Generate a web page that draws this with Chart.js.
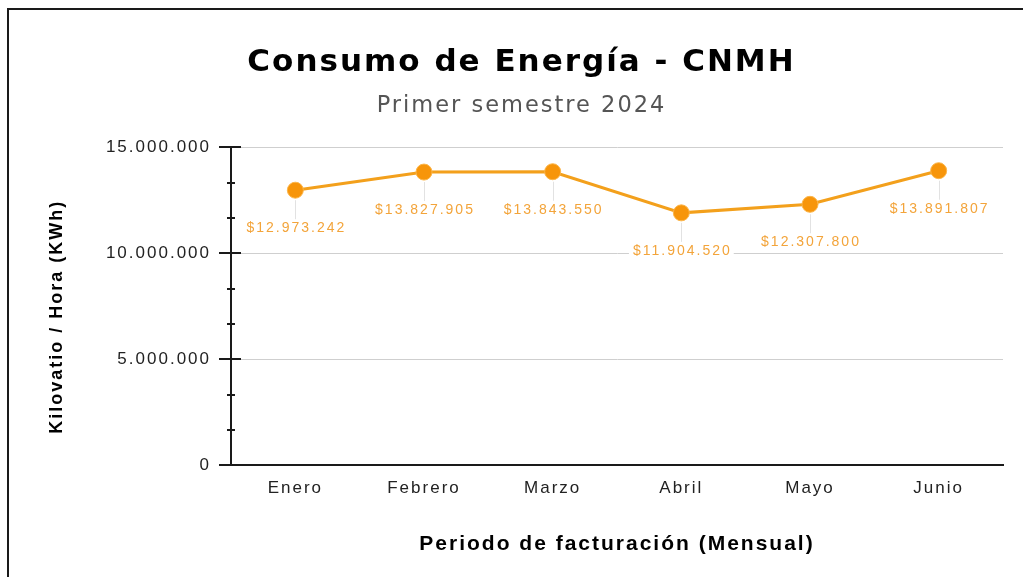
<!DOCTYPE html>
<html>
<head>
<meta charset="utf-8">
<script src="https://cdn.jsdelivr.net/npm/chart.js@4.4.1/dist/chart.umd.min.js"></script>
<style>
	html, body { margin: 0; padding: 0; background: #fff; }
	#wrap { position: relative; width: 1023px; height: 577px; overflow: hidden; }
	#frame { position: absolute; left: 7px; top: 8px; right: -10px; bottom: -10px; border-top: 2px solid #1a1a1a; border-left: 2px solid #1a1a1a; pointer-events: none; }
</style>
</head>
<body>
<div id="wrap">
	<canvas id="energyChart" width="1023" height="577"></canvas>
	<div id="frame"></div>
</div>
<script>
const meses = ['Enero', 'Febrero', 'Marzo', 'Abril', 'Mayo', 'Junio'];
const consumo = [12973242, 13827905, 13843550, 11904520, 12307800, 13891807];
const yMajor = [0, 5000000, 10000000, 15000000];
const yMinorPerMajor = 3;

// minor ticks between the labelled ones
const yAll = [];
for (let i = 0; i < yMajor.length; i++) {
	yAll.push(yMajor[i]);
	if (i < yMajor.length - 1) {
		const step = (yMajor[i + 1] - yMajor[i]) / yMinorPerMajor;
		for (let k = 1; k < yMinorPerMajor; k++) yAll.push(Math.round(yMajor[i] + step * k));
	}
}

function fmt(v) {
	return String(Math.round(v)).replace(/\B(?=(\d{3})+(?!\d))/g, '.');
}

const spacing = {
	id: 'spacing',
	beforeLayout(chart) { chart.ctx.letterSpacing = '2px'; },
	beforeDraw(chart) { chart.ctx.letterSpacing = '2px'; }
};

const axisTicks = {
	id: 'axisTicks',
	afterDraw(chart) {
		const ctx = chart.ctx;
		const y = chart.scales.y;
		const x0 = chart.chartArea.left;
		ctx.save();
		ctx.strokeStyle = '#1a1a1a';
		ctx.lineWidth = 2;
		y.ticks.forEach(t => {
			const py = Math.round(y.getPixelForValue(t.value));
			const major = yMajor.includes(t.value);
			ctx.beginPath();
			ctx.moveTo(x0 - (major ? 12 : 4), py);
			ctx.lineTo(x0 + (major ? (t.value === 0 ? 0 : 10) : 4), py);
			ctx.stroke();
		});
		ctx.restore();
	}
};

const valueLabels = {
	id: 'valueLabels',
	afterDatasetsDraw(chart) {
		const ctx = chart.ctx;
		const meta = chart.getDatasetMeta(0);
		ctx.save();
		ctx.letterSpacing = '2px';
		ctx.font = '14px "Liberation Sans", Arial, sans-serif';
		ctx.textAlign = 'center';
		ctx.textBaseline = 'middle';
		meta.data.forEach((pt, i) => {
			const txt = '$' + fmt(consumo[i]);
			const ty = pt.y + 38;
			ctx.strokeStyle = '#e2e2e2';
			ctx.lineWidth = 1;
			ctx.beginPath();
			ctx.moveTo(Math.round(pt.x) + 0.5, pt.y + 10);
			ctx.lineTo(Math.round(pt.x) + 0.5, ty - 9);
			ctx.stroke();
			const w = ctx.measureText(txt).width;
			ctx.fillStyle = '#fff';
			ctx.fillRect(pt.x - w / 2 - 3, ty - 8, w + 6, 16);
			ctx.fillStyle = '#f3a43a';
			ctx.fillText(txt, pt.x + 1, ty);
		});
		ctx.restore();
	}
};

const ctx = document.getElementById('energyChart').getContext('2d');
const energyChart = new Chart(ctx, {
	type: 'line',
	data: {
		labels: meses,
		datasets: [{
			label: 'Consumo',
			data: consumo,
			borderColor: '#f3a01c',
			borderWidth: 3,
			backgroundColor: '#f7950a',
			pointBackgroundColor: '#f7950a',
			pointBorderColor: '#fbb54a',
			pointBorderWidth: 1,
			pointRadius: 8,
			fill: false,
			tension: 0
		}]
	},
	options: {
		responsive: false,
		animation: false,
		layout: { padding: { left: 40, right: 20, top: 0, bottom: 20 } },
		plugins: {
			legend: { display: false },
			tooltip: { enabled: false },
			title: {
				display: true,
				text: 'Consumo de Energía - CNMH',
				color: '#000',
				font: { family: '"DejaVu Sans", Verdana, sans-serif', size: 31, weight: 'bold' },
				padding: { top: 44, bottom: 11 }
			},
			subtitle: {
				display: true,
				text: 'Primer semestre 2024',
				color: '#555',
				font: { family: '"DejaVu Sans", Verdana, sans-serif', size: 22.5 },
				padding: { top: 0, bottom: 28 }
			}
		},
		scales: {
			x: {
				offset: true,
				grid: { color: 'transparent', drawTicks: false, offset: true },
				border: { color: '#1a1a1a', width: 2 },
				ticks: {
					color: '#222',
					padding: 13,
					font: { family: '"Liberation Sans", Arial, sans-serif', size: 17 }
				},
				title: {
					display: true,
					text: 'Periodo de facturación (Mensual)',
					color: '#000',
					font: { family: '"Liberation Sans", Arial, sans-serif', size: 21, weight: 'bold' },
					padding: { top: 20, bottom: 0 }
				}
			},
			y: {
				min: 0,
				max: 15000000,
				afterBuildTicks(scale) {
					scale.ticks = yAll.map(v => ({ value: v }));
				},
				afterFit(scale) {
					scale.width = 191;
				},
				grid: {
					color: c => (yMajor.includes(c.tick.value) ? '#cfcfcf' : 'transparent'),
					drawTicks: false
				},
				border: { color: '#1a1a1a', width: 2 },
				ticks: {
					color: '#222',
					padding: 20,
					font: { family: '"Liberation Sans", Arial, sans-serif', size: 17 },
					callback: v => (yMajor.includes(v) ? fmt(v) : '')
				},
				title: {
					display: true,
					text: 'Kilovatio / Hora (KWh)\u00a0\u00a0\u00a0',
					color: '#000',
					font: { family: '"Liberation Sans", Arial, sans-serif', size: 18, weight: 'bold' },
					padding: { top: 6, bottom: 0 }
				}
			}
		}
	},
	plugins: [spacing, axisTicks, valueLabels]
});
</script>
</body>
</html>
